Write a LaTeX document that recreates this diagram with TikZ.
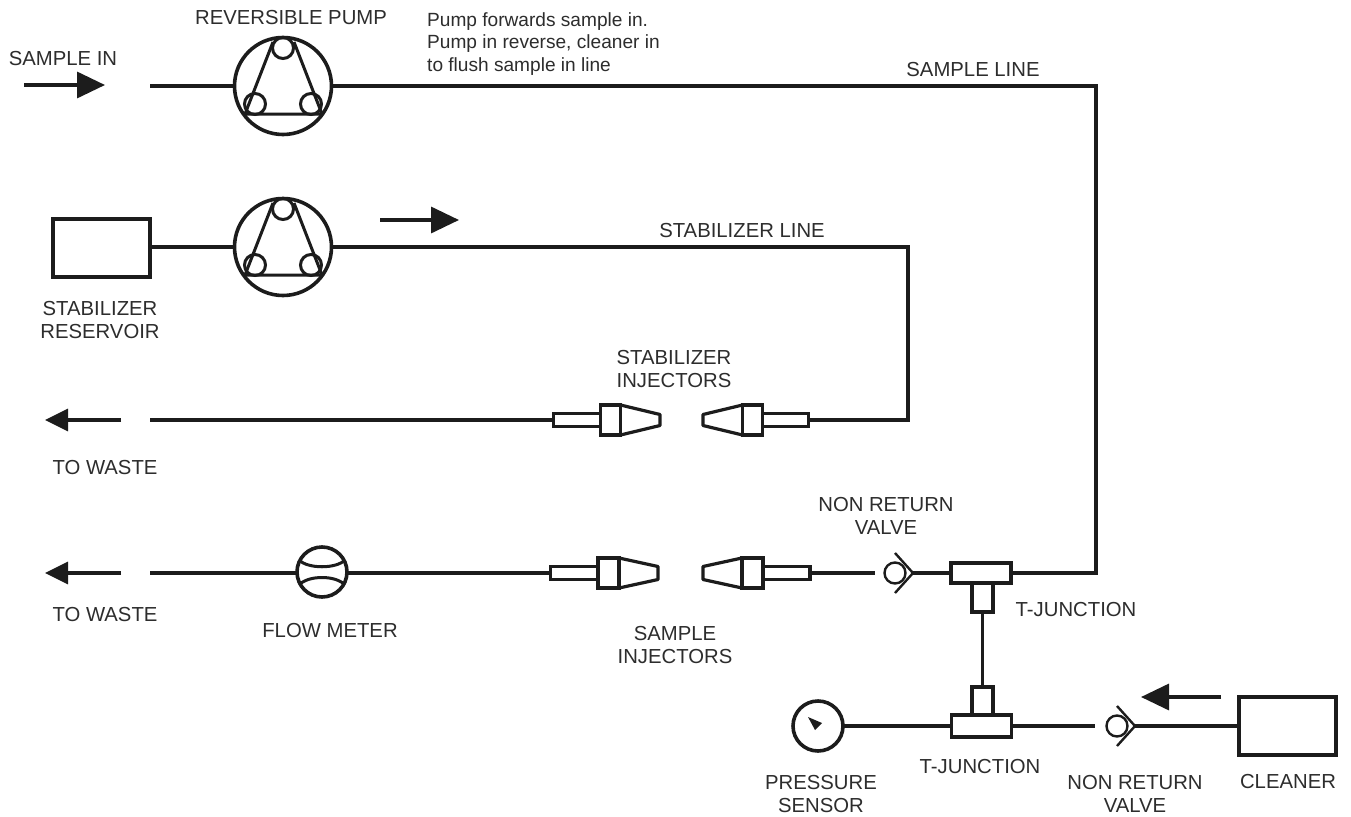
\documentclass[tikz,border=0pt]{standalone}
\usepackage{fontspec}
\setmainfont{Liberation Sans}
\usetikzlibrary{arrows.meta}
\definecolor{pipeblack}{RGB}{28,28,28}
\definecolor{labelgray}{RGB}{45,45,45}
\tikzset{
    pipe/.style={line width=3.7pt, color=pipeblack},
    part/.style={draw=pipeblack, line width=3.2pt, rectangle, inner sep=0pt, outer sep=0pt},
    round part/.style={draw=pipeblack, line width=3.6pt, circle, inner sep=0pt, outer sep=0pt},
    thin part/.style={draw=pipeblack, line width=3pt},
    flow/.style={draw=pipeblack, line width=3.4pt, -{Triangle[length=28pt,width=26pt]}},
    waste/.style={draw=pipeblack, line width=3.2pt, -{Triangle[length=23pt,width=22pt]}},
    lbl/.style={font=\fontsize{20.3}{23}\selectfont, text=labelgray, align=center, inner sep=0pt},
    note/.style={font=\fontsize{19.1}{22.7}\selectfont, text=labelgray, align=left, inner sep=0pt, anchor=north west}
}
\begin{document}
\begin{tikzpicture}[x=1pt,y=-1pt]
    \useasboundingbox[fill=white] (0,0) rectangle (1351,816);
    % pumps
    \node[round part, minimum size=97pt] (pumpa) at (283,86) {};
    \node[round part, minimum size=97pt] (pumpb) at (283,247) {};
    \foreach \p in {pumpa,pumpb} {
        \draw[thin part] ([shift={(0,-38)}]\p.center) circle (10.5);
        \draw[thin part] ([shift={(-28,18)}]\p.center) circle (10.5);
        \draw[thin part] ([shift={(28,18)}]\p.center) circle (10.5);
        \draw[thin part, line join=round] ([shift={(-10,-44)}]\p.center) -- ([shift={(-38,28)}]\p.center) -- ([shift={(39,28)}]\p.center) -- ([shift={(11,-44)}]\p.center);
    }
    % boxes
    \node[part, minimum width=97pt, minimum height=58pt] (reservoir) at (101.5,248) {};
    \node[part, minimum width=97pt, minimum height=58pt] (cleaner) at (1287.5,726) {};
    % stabilizer injectors
    \node[part, minimum width=47pt, minimum height=13pt] (stabtubel) at (577,420) {};
    \node[part, minimum width=20pt, minimum height=30pt] (stabbodyl) at (610.5,420) {};
    \draw[part, line join=round] (stabbodyl.north east) -- (660,414.5) -- (660,425.5) -- (stabbodyl.south east);
    \node[part, minimum width=20pt, minimum height=30pt] (stabbodyr) at (752.5,420) {};
    \node[part, minimum width=46pt, minimum height=13pt] (stabtuber) at (785.5,420) {};
    \draw[part, line join=round] (stabbodyr.north west) -- (703,414.5) -- (703,425.5) -- (stabbodyr.south west);
    % sample injectors
    \node[part, minimum width=47pt, minimum height=13pt] (samptubel) at (574,573) {};
    \node[part, minimum width=21pt, minimum height=30pt] (sampbodyl) at (608.5,573) {};
    \draw[part, line join=round] (sampbodyl.north east) -- (658,566.5) -- (658,579.5) -- (sampbodyl.south east);
    \node[part, minimum width=21pt, minimum height=30pt] (sampbodyr) at (752.5,573) {};
    \node[part, minimum width=47pt, minimum height=13pt] (samptuber) at (786.5,573) {};
    \draw[part, line join=round] (sampbodyr.north west) -- (703,566.5) -- (703,579.5) -- (sampbodyr.south west);
    % flow meter, gauge
    \node[round part, minimum size=50pt] (meter) at (322,572) {};
    \draw[thin part] (299,560) .. controls (308,569) and (336,569) .. (345,560);
    \draw[thin part] (299,585) .. controls (308,575) and (336,575) .. (345,585);
    \node[round part, minimum size=50pt] (gauge) at (818,726) {};
    \fill[pipeblack] (808,717) -- (822,723) -- (815,730) -- cycle;
    % valves
    \node[round part, line width=2.4pt, minimum size=21pt] (valvea) at (895,573) {};
    \draw[thin part, line width=2.4pt] (895,553) -- (913,573) -- (895,593);
    \coordinate (valveaout) at (913,573);
    \node[round part, line width=2.4pt, minimum size=21pt] (valveb) at (1117,726) {};
    \draw[thin part, line width=2.4pt] (1117,706) -- (1135,726) -- (1117,746);
    \coordinate (valvebout) at (1135,726);
    % t junctions
    \node[part, minimum width=60pt, minimum height=20pt] (teea) at (981,573) {};
    \node[part, minimum width=21pt, minimum height=29pt] (stema) at (982.5,597.5) {};
    \node[part, minimum width=60pt, minimum height=22pt] (teeb) at (981.5,726) {};
    \node[part, minimum width=21pt, minimum height=28pt] (stemb) at (982.5,701) {};
    % free ends
    \coordinate (samplestart) at (150,86);
    \coordinate (samplecorner) at (1096,86);
    \coordinate (samplecornerb) at (1096,573);
    \coordinate (stabcorner) at (908,247);
    \coordinate (stabcornerb) at (908,420);
    \coordinate (wastea) at (150,420);
    \coordinate (wasteb) at (150,573);
    \coordinate (valveain) at (875,573);
    \coordinate (valvebin) at (1095,726);
    % lines
    \draw[pipe] (samplestart) -- (pumpa.west);
    \draw[pipe] (pumpa.east) -- (samplecorner) -- (samplecornerb) -- (teea.east);
    \draw[pipe] (reservoir.east |- pumpb) -- (pumpb.west);
    \draw[pipe] (pumpb.east) -- (stabcorner) -- (stabcornerb) -- (stabtuber.east);
    \draw[pipe] (wastea) -- (stabtubel.west);
    \draw[pipe] (wasteb) -- (meter.west |- wasteb);
    \draw[pipe] (meter.east |- wasteb) -- (samptubel.west);
    \draw[pipe] (samptuber.east) -- (valveain);
    \draw[pipe] (valveaout) -- (teea.west);
    \draw[pipe] (stema.south) -- (stemb.north);
    \draw[pipe] (gauge.east) -- (teeb.west);
    \draw[pipe] (teeb.east) -- (valvebin);
    \draw[pipe] (valvebout) -- (cleaner.west);
    % flow arrows
    \coordinate (inhead) at (105,85);
    \coordinate (intail) at (24,85);
    \draw[flow] (intail) -- (inhead);
    \coordinate (stabhead) at (459,220);
    \coordinate (stabtail) at (380,220);
    \draw[flow] (stabtail) -- (stabhead);
    \coordinate (cleanhead) at (1141,697);
    \coordinate (cleantail) at (1221,697);
    \draw[flow] (cleantail) -- (cleanhead);
    \coordinate (wasteahead) at (45,420);
    \coordinate (wasteatail) at (121,420);
    \draw[waste] (wasteatail) -- (wasteahead);
    \coordinate (wastebhead) at (45,573);
    \coordinate (wastebtail) at (121,573);
    \draw[waste] (wastebtail) -- (wastebhead);
    % labels
    \node[lbl] (lblin) at (63,59) {SAMPLE IN};
    \node[lbl] (lblpump) at (291,18) {REVERSIBLE PUMP};
    \node[note] (lblnote) at (427,12) {Pump forwards sample in.\\Pump in reverse, cleaner in\\to flush sample in line};
    \node[lbl] (lblsample) at (973,70) {SAMPLE LINE};
    \node[lbl] (lblstab) at (742,231) {STABILIZER LINE};
    \node[lbl] (lblres) at (100,320) {STABILIZER\\RESERVOIR};
    \node[lbl] (lblstabinj) at (674,369) {STABILIZER\\INJECTORS};
    \node[lbl] (lblwastea) at (105,468) {TO WASTE};
    \node[lbl] (lblwasteb) at (105,615) {TO WASTE};
    \node[lbl] (lblmeter) at (330,631) {FLOW METER};
    \node[lbl] (lblsampinj) at (675,645) {SAMPLE\\INJECTORS};
    \node[lbl] (lblvalvea) at (886,516) {NON RETURN\\VALVE};
    \node[lbl] (lblteea) at (1076,610) {T-JUNCTION};
    \node[lbl] (lblgauge) at (821,794) {PRESSURE\\SENSOR};
    \node[lbl] (lblteeb) at (980,767) {T-JUNCTION};
    \node[lbl] (lblvalveb) at (1135,794) {NON RETURN\\VALVE};
    \node[lbl] (lblcleaner) at (1288,782) {CLEANER};
\end{tikzpicture}
\end{document}
